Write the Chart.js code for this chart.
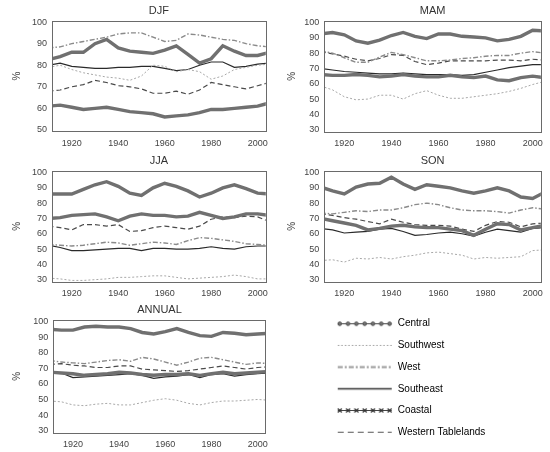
<!DOCTYPE html>
<html>
<head>
<meta charset="utf-8">
<script src="https://cdn.jsdelivr.net/npm/chart.js@4.4.1/dist/chart.umd.min.js"></script>
<style>
  body { margin: 0; background: #fff; width: 550px; height: 452px; position: relative; overflow: hidden; }
  canvas { position: absolute; }
</style>
</head>
<body>
<canvas id="djf" width="275" height="150" style="left:0;top:0"></canvas>
<canvas id="mam" width="275" height="150" style="left:275px;top:0"></canvas>
<canvas id="jja" width="275" height="150" style="left:0;top:150px"></canvas>
<canvas id="son" width="275" height="150" style="left:275px;top:150px"></canvas>
<canvas id="ann" width="275" height="152" style="left:0;top:300px"></canvas>
<canvas id="key" width="225" height="146" style="left:325px;top:307px"></canvas>
<script>
// years of the smoothed series (5-year samples)
const years = [1910, 1915, 1920, 1925, 1930, 1935, 1940, 1945, 1950, 1955,
               1960, 1965, 1970, 1975, 1980, 1985, 1990, 1995, 2000, 2005];
const yearTicks = [1920, 1940, 1960, 1980, 2000];
const regions = ["Central", "Southwest", "West", "Southeast", "Coastal", "Western Tablelands"];

// DJF
const djfCentral    = [61, 61.5, 60.5, 59.5, 60, 60.5, 59.5, 58.5, 58, 57.5, 56, 56.5, 57, 58, 59.5, 59.5, 60, 60.5, 61, 62.5];
const djfSouthwest  = [79, 80, 78, 76.5, 75.5, 74.5, 74, 73, 75, 80, 79.5, 77, 78, 77, 73.5, 75, 78, 79, 80, 80.5];
const djfWest       = [88, 88.5, 90, 91, 92, 93, 94.5, 95, 95, 93, 91, 91.5, 94.5, 94, 93, 92, 91.5, 90, 89, 88.5];
const djfSoutheast  = [80, 81, 79.5, 79, 78.5, 78.5, 79, 79, 79.5, 79.5, 78.5, 77.5, 78, 80, 81.5, 81.5, 79, 79.5, 80.5, 81];
const djfCoastal    = [82.5, 84, 86, 86, 90, 92, 88, 86.5, 86, 85.5, 87, 89, 85, 81, 83, 89, 86.5, 84.5, 84.5, 86];
const djfTablelands = [68, 68.5, 70, 71, 73, 72, 70.5, 70, 69, 67, 67, 68, 66.5, 68.5, 72, 71, 70, 69, 70.5, 72];

// MAM
const mamCentral    = [66, 65.5, 65.5, 66, 65.5, 64.5, 65, 66, 65, 64.5, 64.5, 65.5, 64.5, 64, 65, 62.5, 62, 64, 65, 64];
const mamSouthwest  = [58.5, 56, 51.5, 49.5, 50, 52.5, 52.5, 50, 53.5, 55.5, 52.5, 50.5, 50.5, 51.5, 52.5, 53.5, 55, 57, 59.5, 61.5];
const mamWest       = [81.5, 80, 77, 74, 74, 77.5, 80.5, 79, 77, 75, 75, 75.5, 76.5, 77, 78, 78.5, 78.5, 80, 81, 80];
const mamSoutheast  = [70, 69, 68, 67.5, 67, 66.5, 66.5, 67, 66.5, 66, 66, 66, 65.5, 66, 67.5, 69, 70.5, 71.5, 72.5, 72.5];
const mamCoastal    = [92.5, 93.5, 92, 88, 86.5, 88.5, 91.5, 93.5, 91, 89.5, 92.5, 92.5, 91, 90.5, 90, 88, 89, 91, 95, 94.5];
const mamTablelands = [81, 79.5, 78, 76, 75, 76.5, 79, 78.5, 74.5, 72.5, 73.5, 75, 75, 75, 75, 75.5, 75.5, 75, 76, 75.5];

// JJA
const jjaCentral    = [70, 70.5, 72, 72.5, 73, 71, 68.5, 71.5, 73, 72, 72, 71, 71.5, 74, 72, 70, 71, 73, 73, 72];
const jjaSouthwest  = [31, 30.5, 29.5, 29.5, 30, 30.5, 31.5, 31.5, 32, 32.5, 32.5, 31.5, 30.5, 31, 31.5, 32, 33, 32, 30.5, 30.5];
const jjaWest       = [53, 52.5, 52, 52.5, 53.5, 54.5, 54, 52.5, 53.5, 54.5, 54, 53, 55.5, 57.5, 57, 56, 55, 53.5, 53, 52.5];
const jjaSoutheast  = [52.5, 51, 49, 49, 49.5, 50, 50.5, 50.5, 49, 50.5, 50.5, 50, 50, 50.5, 51.5, 50.5, 50, 51.5, 52, 52];
const jjaCoastal    = [86, 86, 86, 89, 92, 94, 91, 86.5, 85, 90, 93, 91, 88, 84, 86.5, 90, 92, 89.5, 86.5, 86];
const jjaTablelands = [65, 64, 62.5, 66, 66, 65, 66, 61.5, 62, 64, 65, 64, 63, 65, 69.5, 71, 70.5, 71.5, 71, 68];

// SON
const sonCentral    = [70, 68.5, 67, 65.5, 62.5, 63.5, 65, 65.5, 64.5, 64, 64, 63, 62, 59, 63, 66.5, 66, 62.5, 64, 65.5];
const sonSouthwest  = [42.5, 43, 41.5, 44, 43.5, 44.5, 43.5, 45, 46, 47.5, 48, 47, 46, 43.5, 44.5, 44, 44.5, 45, 49, 49.5];
const sonWest       = [73.5, 73, 74, 75, 74.5, 75.5, 75.5, 77, 79, 80, 79, 77, 75.5, 75, 75, 74.5, 73.5, 75.5, 77, 76];
const sonSoutheast  = [63.5, 62.5, 60.5, 61, 61.5, 63, 63.5, 61.5, 59, 59.5, 60.5, 61, 60, 58.5, 61, 63, 62, 61, 63.5, 64];
const sonCoastal    = [90.5, 88, 86, 90.5, 92.5, 93, 97, 92.5, 89, 92, 91, 90, 88, 86.5, 88, 90, 88, 84, 83, 87];
const sonTablelands = [73, 72, 70.5, 69.5, 68, 66.5, 69.5, 67.5, 66, 65.5, 65.5, 65, 63, 61.5, 65.5, 68, 67.5, 64.5, 66.5, 67];

// ANNUAL
const annCentral    = [67.5, 67, 66.5, 65.5, 66, 66.5, 67.5, 67, 66, 65.5, 66, 66, 66.5, 65.5, 66.5, 67.5, 66.5, 67, 67.5, 68];
const annSouthwest  = [49, 48.5, 46.5, 46, 47, 47.5, 46.5, 46.5, 48, 49.5, 50.5, 49.5, 47.5, 46.5, 48, 49, 49, 49.5, 50, 49.5];
const annWest       = [75, 74, 73.5, 73, 74, 75, 75.5, 74.5, 77, 76, 74, 72, 74, 76.5, 77, 75.5, 74, 72.5, 73.5, 73];
const annSoutheast  = [68, 67, 64, 64.5, 65, 65.5, 66, 66.5, 65.5, 63.5, 64.5, 65, 66, 64, 66, 66.5, 65, 66, 66.5, 67];
const annCoastal    = [95, 94.5, 94.5, 96.5, 97, 96.5, 96.5, 95.5, 93, 92, 93.5, 95.5, 93, 91, 90.5, 93, 92.5, 91.5, 92, 92.5];
const annTablelands = [72.5, 73, 72, 71.5, 70.5, 70.5, 71.5, 71.5, 69.5, 69, 68.5, 68, 68.5, 69.5, 70.5, 71.5, 70.5, 69.5, 70.5, 71];

const FONT = "'Liberation Sans', Arial, sans-serif";

// line look per region (same order as regions)
const looks = [
  { borderColor: "#707070", borderWidth: 3.4 },                              // Central
  { borderColor: "#a8a8a8", borderWidth: 1, borderDash: [2, 2] },           // Southwest
  { borderColor: "#8a8a8a", borderWidth: 1.4, borderDash: [5, 2, 1.5, 2] }, // West
  { borderColor: "#2a2a2a", borderWidth: 1.2 },                              // Southeast
  { borderColor: "#707070", borderWidth: 3.4 },                              // Coastal
  { borderColor: "#4a4a4a", borderWidth: 1.2, borderDash: [5, 3] },         // Western Tablelands
];

const frame = {
  id: "frame",
  afterDraw(chart) {
    const a = chart.chartArea, c = chart.ctx;
    c.save();
    c.strokeStyle = "#6a6a6a";
    c.lineWidth = 1;
    c.strokeRect(Math.round(a.left) + 0.5, Math.round(a.top) + 0.5,
                 Math.round(a.right - a.left), Math.round(a.bottom - a.top));
    c.restore();
  },
};

function makePanel(id, title, series, box, yRange, yTicks) {
  const canvas = document.getElementById(id);
  const W = canvas.width, H = canvas.height;
  const [L, R, T, B] = box;
  new Chart(canvas.getContext("2d"), {
    type: "line",
    data: {
      datasets: series.map((vals, i) => ({
        label: regions[i],
        data: vals.map((v, j) => ({ x: years[j], y: v })),
        pointRadius: 0,
        tension: 0,
        fill: false,
        clip: 0,
        ...looks[i],
      })),
    },
    options: {
      responsive: false,
      animation: false,
      layout: { padding: { left: 0, right: W - R, top: 0, bottom: 0 } },
      plugins: {
        legend: { display: false },
        tooltip: { enabled: false },
        title: {
          display: true,
          text: title,
          fullSize: false,
          color: "#333",
          font: { family: FONT, size: 11, weight: "normal" },
          padding: { top: T - 13.2 - 3.5, bottom: 3.5 },
        },
      },
      scales: {
        x: {
          type: "linear",
          min: 1911.5,
          max: 2003.5,
          grid: { display: false, drawTicks: false, tickLength: 0 },
          border: { display: false },
          afterBuildTicks: (s) => { s.ticks = yearTicks.map((v) => ({ value: v })); },
          afterFit: (s) => { s.height = H - B; },
          ticks: {
            padding: 7,
            color: "#444",
            maxRotation: 0,
            font: { family: FONT, size: 9 },
            callback: (v) => String(v),
          },
        },
        y: {
          type: "linear",
          min: yRange[0],
          max: yRange[1],
          grid: { display: false, drawTicks: false, tickLength: 0 },
          border: { display: false },
          afterBuildTicks: (s) => { s.ticks = yTicks.map((v) => ({ value: v })); },
          afterFit: (s) => { s.width = L; },
          title: {
            display: true,
            text: "%",
            color: "#444",
            font: { family: FONT, size: 10 },
            padding: { top: 11, bottom: 0 },
          },
          ticks: {
            padding: 5,
            color: "#444",
            font: { family: FONT, size: 9 },
          },
        },
      },
    },
    plugins: [frame],
  });
}

const ticks50 = [50, 60, 70, 80, 90, 100];
const ticks30 = [30, 40, 50, 60, 70, 80, 90, 100];

makePanel("djf", "DJF",
  [djfCentral, djfSouthwest, djfWest, djfSoutheast, djfCoastal, djfTablelands],
  [52, 268, 21, 131], [49.5, 100.5], ticks50);
makePanel("mam", "MAM",
  [mamCentral, mamSouthwest, mamWest, mamSoutheast, mamCoastal, mamTablelands],
  [49.3, 266.7, 21, 131.5], [28.8, 101], ticks30);
makePanel("jja", "JJA",
  [jjaCentral, jjaSouthwest, jjaWest, jjaSoutheast, jjaCoastal, jjaTablelands],
  [52, 268.3, 21, 131.5], [28.8, 101], ticks30);
makePanel("son", "SON",
  [sonCentral, sonSouthwest, sonWest, sonSoutheast, sonCoastal, sonTablelands],
  [49.3, 266.7, 21, 131.5], [28.8, 101], ticks30);
makePanel("ann", "ANNUAL",
  [annCentral, annSouthwest, annWest, annSoutheast, annCoastal, annTablelands],
  [53.3, 270, 20, 132.5], [28.8, 101], ticks30);

// small line samples for the key
function sample(kind) {
  const c = document.createElement("canvas");
  c.width = 56; c.height = 9;
  const g = c.getContext("2d");
  const y = 4.5;
  g.lineCap = "butt";
  const line = (color, w, dash) => {
    g.save(); g.strokeStyle = color; g.lineWidth = w; g.setLineDash(dash || []);
    g.beginPath(); g.moveTo(1, y); g.lineTo(55, y); g.stroke(); g.restore();
  };
  if (kind === 0) {
    line("#444", 1.2);
    g.strokeStyle = "#444"; g.fillStyle = "#777"; g.lineWidth = 1;
    for (let i = 0; i < 7; i++) { g.beginPath(); g.arc(3 + i * 8.3, y, 1.8, 0, Math.PI * 2); g.fill(); g.stroke(); }
  } else if (kind === 1) {
    line("#9a9a9a", 1, [1.5, 2]);
  } else if (kind === 2) {
    line("#9a9a9a", 2, [5, 2, 2, 2]);
  } else if (kind === 3) {
    line("#333", 1.3);
  } else if (kind === 4) {
    line("#444", 1.2);
    g.strokeStyle = "#333"; g.lineWidth = 1.1;
    for (let i = 0; i < 7; i++) {
      const cx = 3 + i * 8.3;
      g.beginPath(); g.moveTo(cx - 2, y - 2); g.lineTo(cx + 2, y + 2);
      g.moveTo(cx - 2, y + 2); g.lineTo(cx + 2, y - 2); g.stroke();
    }
  } else {
    line("#555", 1.2, [6, 4]);
  }
  return c;
}
const keySamples = regions.map((r, i) => sample(i));

new Chart(document.getElementById("key").getContext("2d"), {
  type: "line",
  data: { datasets: regions.map((r) => ({ label: r, data: [] })) },
  options: {
    responsive: false,
    animation: false,
    scales: { x: { display: false }, y: { display: false } },
    plugins: {
      tooltip: { enabled: false },
      legend: {
        position: "left",
        align: "start",
        maxWidth: 220,
        labels: {
          usePointStyle: true,
          pointStyleWidth: 56,
          padding: 11.7,
          color: "#333",
          font: { family: FONT, size: 10 },
          generateLabels: (chart) => chart.data.datasets.map((ds, i) => ({
            text: ds.label,
            pointStyle: keySamples[i],
            datasetIndex: i,
            hidden: false,
            lineWidth: 0,
            strokeStyle: "rgba(0,0,0,0)",
            fillStyle: "rgba(0,0,0,0)",
          })),
        },
      },
    },
  },
});
</script>
</body>
</html>
